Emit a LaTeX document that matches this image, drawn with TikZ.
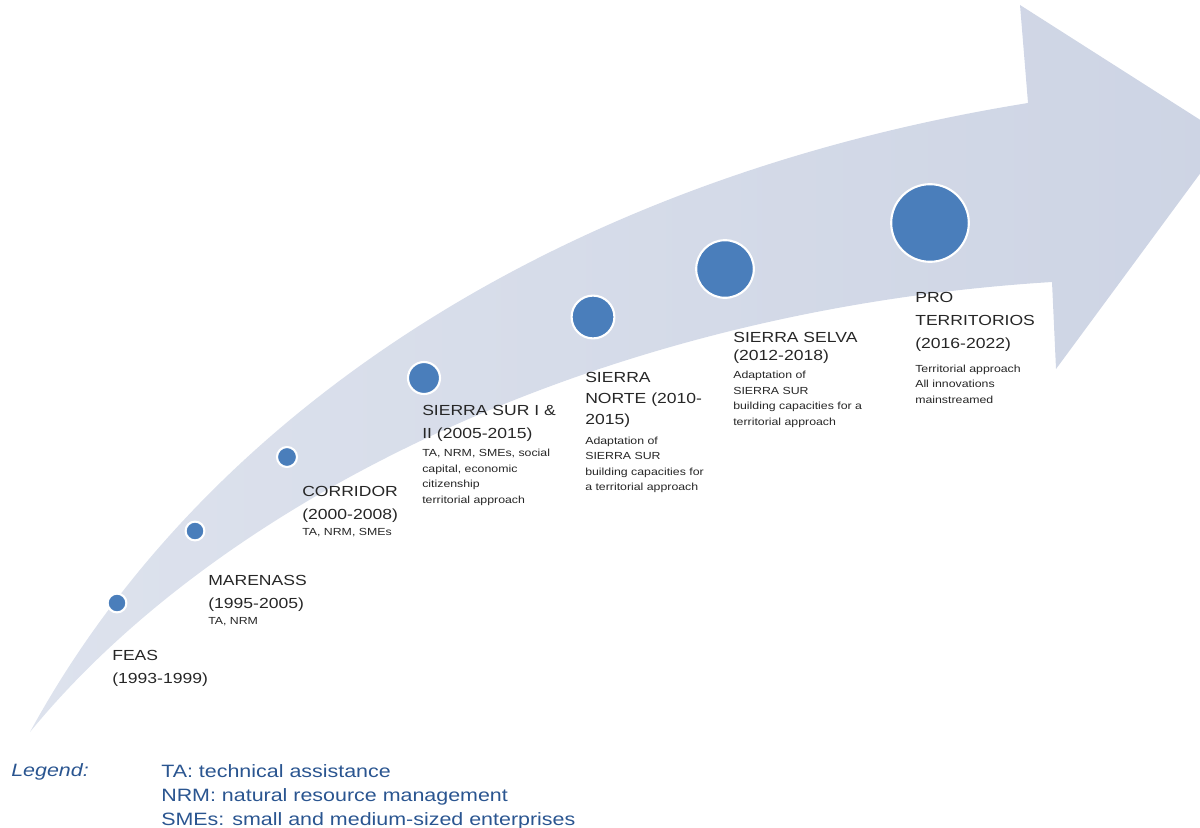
\documentclass[tikz,border=0pt]{standalone}
\usepackage{fontspec}
\setmainfont{Liberation Sans}[FakeStretch=1.2]
\usetikzlibrary{positioning}

\definecolor{bandgrey}{HTML}{CDD4E4}
\definecolor{bandlight}{HTML}{DDE2ED}
\definecolor{dotblue}{HTML}{4A7EBB}
\definecolor{legendblue}{HTML}{2A5590}
\definecolor{labelgrey}{HTML}{262626}

\newcommand{\titlefont}{\fontsize{10.4}{16.4}\selectfont}
\newcommand{\notefont}{\fontsize{7.3}{11}\selectfont}
\newcommand{\legendfont}{\fontsize{12.7}{17}\selectfont}

\begin{document}
\begin{tikzpicture}[x=0.025cm, y=-0.025cm,
    dot/.style={circle, fill=dotblue, draw=white, line width=1.5pt, inner sep=0pt},
    title/.style={anchor=north west, inner sep=0pt, align=left, text=labelgrey, font=\titlefont},
    note/.style={anchor=north west, inner sep=0pt, align=left, text=labelgrey, font=\notefont},
    legend/.style={anchor=base west, inner sep=0pt, text=legendblue, font=\legendfont}]
  \useasboundingbox (0,0) rectangle (1200,827);

  % the curved arrow
  \shade[left color=bandlight, right color=bandgrey]
    (30,732) .. controls (200,420) and (550,180) .. (1028,103)
    -- (1020,5) -- (1227,137) -- (1056,369) -- (1052,282)
    .. controls (600,310) and (220,500) .. (30,732) -- cycle;

  % milestones on the arrow
  \node[dot, minimum size=0.47cm] (feasdot) at (117,603) {};
  \node[dot, minimum size=0.47cm] (marenassdot) at (195,531) {};
  \node[dot, minimum size=0.5cm] (corridordot) at (287,457) {};
  \node[dot, minimum size=0.8cm] (surdot) at (424,378) {};
  \node[dot, minimum size=1.07cm] (nortedot) at (593,317) {};
  \node[dot, minimum size=1.44cm] (selvadot) at (725,269) {};
  \node[dot, minimum size=1.94cm] (prodot) at (930,223) {};

  % project names and notes
  \node[title] (feas) at (112,650) {FEAS\\(1993-1999)};

  \node[title] (marenass) at (208,575) {MARENASS\\(1995-2005)};
  \node[note] (marenassnote) at ([yshift=-4pt]marenass.south west) {TA, NRM};

  \node[title] (corridor) at (302,486) {CORRIDOR\\(2000-2008)};
  \node[note] (corridornote) at ([yshift=-4pt]corridor.south west) {TA, NRM, SMEs};

  \node[title] (sur) at (422,405) {SIERRA SUR I \&\\II (2005-2015)};
  \node[note] (surnote) at ([yshift=-5pt]sur.south west)
    {TA, NRM, SMEs, social\\capital, economic\\citizenship\\territorial approach};

  \node[title, font=\fontsize{10.4}{15}\selectfont] (norte) at (585,372) {SIERRA\\NORTE (2010-\\2015)};
  \node[note] (nortenote) at ([yshift=-6pt]norte.south west)
    {Adaptation of\\SIERRA SUR\\building capacities for\\a territorial approach};

  \node[title, font=\fontsize{10.4}{13}\selectfont] (selva) at (733,332) {SIERRA SELVA\\(2012-2018)};
  \node[note] (selvanote) at ([yshift=-5pt]selva.south west)
    {Adaptation of\\SIERRA SUR\\building capacities for a\\territorial approach};

  \node[title] (pro) at (915,292) {PRO\\TERRITORIOS\\(2016-2022)};
  \node[note] (pronote) at ([yshift=-9pt]pro.south west)
    {Territorial approach\\All innovations\\mainstreamed};

  % legend
  \node[legend, font=\legendfont\itshape] (legend) at (11,776) {Legend:};
  \node[legend] (ta) at (161,777) {TA: technical assistance};
  \node[legend] (nrm) at (161,801) {NRM: natural resource management};
  \node[legend] (sme) at (161,825) {SMEs: small and medium-sized enterprises};
\end{tikzpicture}
\end{document}
